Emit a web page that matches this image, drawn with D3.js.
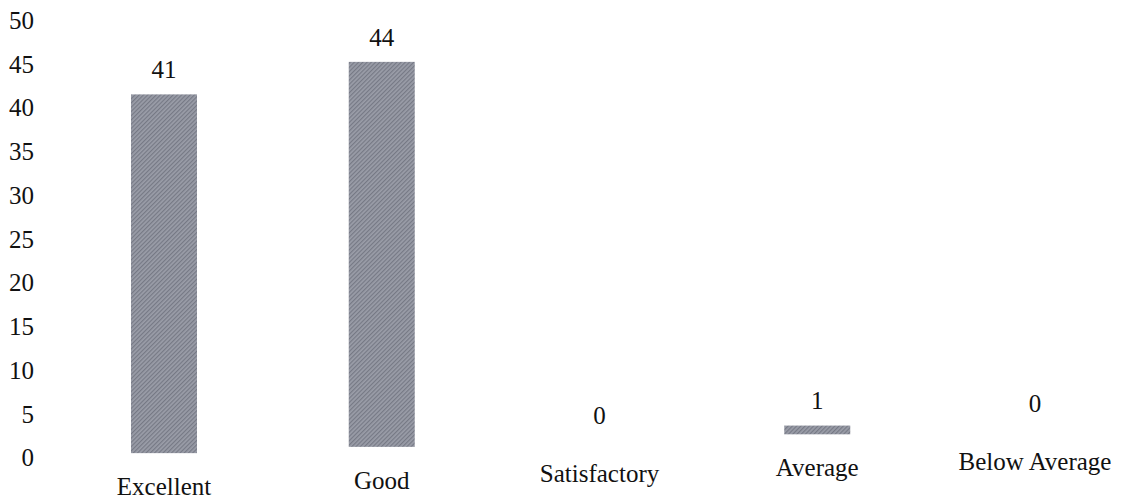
<!DOCTYPE html>
<html><head><meta charset="utf-8">
<script src="https://cdn.jsdelivr.net/npm/d3@7"></script>
<style>
html,body{margin:0;padding:0;background:#fff;}
svg text{font-family:"Liberation Serif","DejaVu Serif",serif;fill:#111;}
</style></head>
<body><svg id="c" width="1123" height="500"></svg>
<script>
const categories = ["Excellent","Good","Satisfactory","Average","Below Average"];
const values = [41,44,0,1,0];
const yTicks = [0,5,10,15,20,25,30,35,40,45,50];

const svg = d3.select("#c");
const defs = svg.append("defs");
const pat = defs.append("pattern").attr("id","hatch").attr("patternUnits","userSpaceOnUse")
  .attr("width",3).attr("height",3).attr("patternTransform","rotate(45)");
pat.append("rect").attr("width",3).attr("height",3).attr("fill","#9a9da8");
pat.append("rect").attr("width",1.2).attr("height",3).attr("fill","#767985");

// scanned page drifts upward to the right
const tilt = Math.tan(1.65*Math.PI/180);
const off = xv => -(xv-30)*tilt;

const y = d3.scaleLinear().domain([0,50]).range([457,19.5]);
const x = d3.scalePoint().domain(categories).range([164,1035]);
const barW = 66;
const fs = 25;

const yAxis = svg.append("g").attr("transform","translate(34,0)")
  .call(d3.axisLeft(y).tickValues(yTicks).tickSize(0).tickPadding(0));
yAxis.select(".domain").remove();
yAxis.selectAll("text").attr("font-size",fs).attr("dy","0.35em")
  .style("font-family","Liberation Serif").attr("fill","#111");

svg.selectAll("rect.bar").data(values).enter().append("rect").attr("class","bar")
  .attr("x",(d,i)=>x(categories[i])-barW/2)
  .attr("width",barW)
  .attr("y",(d,i)=>y(d)+off(x(categories[i])))
  .attr("height",d=>y(0)-y(d))
  .attr("fill","url(#hatch)");

svg.selectAll("text.val").data(values).enter().append("text").attr("class","val")
  .attr("x",(d,i)=>x(categories[i]))
  .attr("y",(d,i)=>y(d)-25+off(x(categories[i])))
  .attr("dy","0.35em")
  .attr("text-anchor","middle").attr("font-size",fs)
  .text(d=>d);

const xAxis = svg.append("g").attr("transform","translate(0,490)")
  .call(d3.axisBottom(x).tickSize(0).tickPadding(0));
xAxis.select(".domain").remove();
xAxis.selectAll(".tick").attr("transform",d=>`translate(${x(d)},${off(x(d))})`);
xAxis.selectAll("text").attr("font-size",fs).attr("dy","0.35em").attr("y",0)
  .style("font-family","Liberation Serif").attr("fill","#111");
</script></body></html>
